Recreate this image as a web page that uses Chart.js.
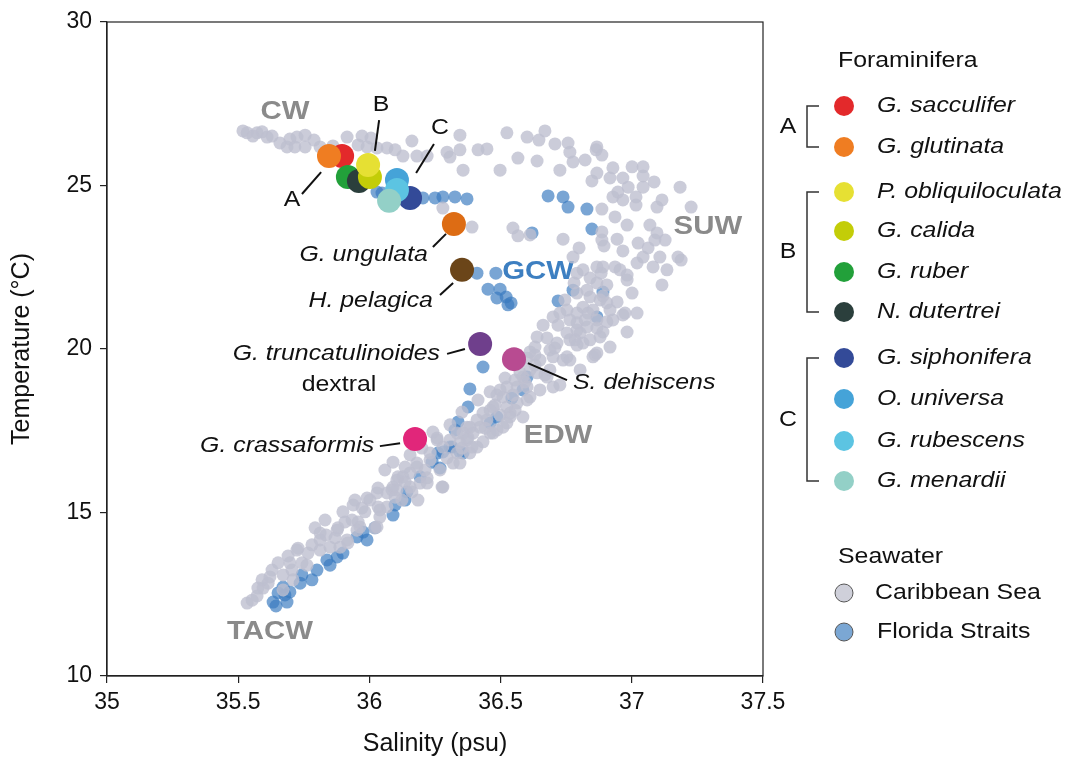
<!DOCTYPE html>
<html>
<head>
<meta charset="utf-8">
<script src="https://cdn.jsdelivr.net/npm/chart.js@4.4.0/dist/chart.umd.min.js"></script>
<style>
  html, body { margin: 0; padding: 0; background: #fff; }
  #wrap { width: 1069px; height: 760px; }
</style>
</head>
<body>
<div id="wrap"><canvas id="tsChart" width="1069" height="760"></canvas></div>
<script>
// Seawater T-S data
const caribbeanSalinity = [
  35.518,35.534,35.572,35.591,35.610,35.629,35.556,35.697,35.724,35.755,35.686,35.716,35.755,35.812,35.915,35.972,35.957,35.991,36.029,36.067,
  36.098,36.128,36.162,36.181,36.220,36.296,36.307,36.345,36.345,36.357,36.414,36.448,36.498,36.524,36.280,36.391,35.659,35.789,35.861,36.006,
  36.601,36.646,36.707,36.757,36.764,36.776,36.867,36.886,36.566,36.639,36.726,36.928,36.867,36.848,37.001,37.043,37.043,36.966,36.986,37.043,
  36.947,36.928,36.966,37.016,37.016,37.115,37.096,37.184,37.226,36.886,36.936,36.547,36.566,36.612,36.738,36.799,36.776,36.886,36.886,36.894,
  36.944,36.966,37.024,37.062,37.088,37.096,37.107,37.081,37.176,37.020,37.043,36.936,36.890,36.883,36.982,36.791,36.841,36.905,37.115,37.085,
  36.814,36.867,36.955,36.982,36.867,36.829,36.791,36.841,36.879,36.905,36.814,36.791,36.764,36.833,36.852,36.753,36.726,36.700,37.001,37.134,
  36.974,37.020,36.928,36.867,36.982,37.069,37.127,37.188,36.669,36.822,36.864,36.917,36.662,36.719,36.791,36.803,36.867,36.905,36.860,36.738,
  36.791,36.639,36.631,36.612,36.688,36.669,36.585,36.563,36.509,36.486,36.471,36.433,36.410,36.383,36.357,36.345,36.307,36.280,36.258,36.231,
  36.181,36.155,36.128,36.105,36.090,36.585,36.536,36.509,36.471,36.563,36.612,36.753,36.829,36.890,36.966,36.814,36.852,36.784,36.715,36.677,
  36.650,36.601,36.700,36.612,36.574,36.555,36.524,36.498,36.601,36.639,36.677,36.700,36.650,36.601,36.524,36.460,36.448,36.421,36.395,36.372,
  36.536,36.524,36.486,36.460,36.433,36.410,36.383,36.753,36.688,36.803,36.791,36.879,36.982,36.917,36.867,36.334,36.319,36.345,36.269,36.280,
  36.220,36.193,36.181,36.136,36.155,36.109,36.086,36.067,36.040,36.029,36.002,36.029,35.964,35.938,35.934,35.915,35.877,35.850,35.812,35.812,
  35.766,35.743,35.724,35.697,35.652,35.621,35.595,35.572,35.534,35.591,35.629,35.705,35.728,35.762,35.812,35.869,35.880,35.888,35.918,35.957,
  35.953,35.991,36.033,36.067,36.033,36.040,36.021,36.105,36.136,36.220,36.277,36.185,36.124,36.231,36.258,36.376,36.391,36.372,36.334,35.553,
  35.614,35.671,35.690,35.781,35.835,35.907,35.983,36.098,36.162,36.212,36.296,36.353,36.441,36.498,36.547,36.593,36.631,36.707,36.764,36.841,
  36.479,36.555,36.726,36.764,36.822,36.917,36.944,36.890,36.780,36.745,
  35.793,35.831,35.899,35.945,35.972,36.059,36.090,36.155,36.200,36.242,36.307,36.353,36.414,36.460,36.517,36.574,36.631,35.671,35.709,35.575
];
const caribbeanTemperature = [
  26.67,26.61,26.61,26.64,26.48,26.51,26.51,26.42,26.48,26.54,26.18,26.18,26.18,26.18,26.48,26.51,26.24,26.18,26.15,26.15,
  26.09,25.90,26.36,25.90,25.90,26.02,25.87,26.54,26.09,25.47,26.09,26.12,25.47,26.61,24.31,23.73,26.30,26.39,26.21,26.45,
  26.48,26.39,26.27,26.30,26.02,25.72,26.18,25.93,25.84,25.75,25.47,25.54,25.38,25.14,25.57,25.57,25.29,25.23,24.95,24.95,
  24.80,24.65,24.56,24.65,24.40,24.56,24.34,24.95,24.34,24.28,24.04,23.70,23.46,23.49,23.36,23.09,22.81,23.58,23.33,23.15,
  23.36,23.00,23.24,23.09,23.33,23.55,22.81,22.51,22.81,22.63,22.81,22.51,22.51,22.32,22.26,22.32,22.17,21.96,21.96,25.11,
  22.42,22.51,22.42,22.11,22.02,21.80,21.71,21.59,21.50,21.41,21.28,21.10,20.89,21.10,21.19,21.19,21.10,20.98,21.71,22.42,
  21.10,21.10,20.89,20.89,23.79,23.79,23.33,22.72,26.67,25.78,26.09,25.23,20.73,20.73,20.80,20.49,20.64,20.83,19.82,19.66,
  20.12,20.37,20.06,19.91,19.97,19.21,19.14,18.84,18.53,18.59,18.23,18.04,17.83,17.61,17.43,17.13,17.22,17.00,17.28,16.61,
  16.51,16.21,16.09,15.99,15.78,17.92,18.04,17.61,17.43,18.35,18.53,20.49,20.67,20.52,21.04,20.18,19.76,20.28,20.18,20.34,
  19.66,19.72,19.76,19.36,19.27,19.05,18.84,18.75,18.84,19.27,19.14,18.84,18.75,18.44,18.23,18.13,17.83,17.61,17.43,17.22,
  17.92,17.74,17.52,17.43,17.16,17.00,16.82,19.76,19.36,19.36,20.58,20.37,20.52,20.06,19.88,16.82,16.51,16.51,16.30,15.78,
  16.06,15.90,16.39,16.39,15.78,16.09,15.69,15.17,15.08,15.60,15.38,14.56,14.56,15.23,14.77,14.16,14.46,13.94,14.16,14.37,
  13.76,13.46,13.85,13.46,13.46,13.03,12.69,12.45,12.23,12.94,13.24,13.24,13.91,13.39,13.85,14.22,14.53,13.94,14.07,14.71,
  14.46,15.44,15.75,15.60,15.17,14.86,14.53,15.69,15.93,15.90,15.78,15.38,15.38,16.82,17.22,17.28,17.00,17.61,17.43,12.32,
  12.84,13.09,13.67,14.01,14.31,14.71,15.02,15.47,15.63,16.30,16.67,16.97,17.58,17.98,18.59,18.99,19.51,20.03,20.28,20.28,
  18.29,18.13,18.90,19.66,20.89,21.19,21.44,21.62,22.02,21.50,
  14.53,14.77,15.02,15.38,15.14,16.30,16.54,16.76,16.97,17.46,17.68,18.07,18.44,18.69,19.11,19.60,19.82,12.63,12.94,12.69
];
const floridaSalinity = [
  36.029,36.048,36.204,36.250,36.280,36.326,36.372,36.681,36.738,36.757,36.829,36.848,36.620,36.410,36.482,36.452,36.498,36.486,36.521,36.528,
  36.540,36.719,36.867,36.890,36.776,36.433,36.383,36.376,36.338,36.315,36.280,36.261,36.357,36.460,36.486,36.543,36.585,36.601,36.239,36.269,
  36.307,36.345,36.136,36.143,36.090,36.021,35.976,35.953,35.899,35.877,35.838,35.800,35.781,35.743,35.736,35.697,35.686,35.652,35.633,35.671,
  35.678,36.326,36.193,36.098,35.991,35.850,35.644
];
const floridaTemperature = [
  24.80,24.77,24.62,24.62,24.65,24.65,24.59,24.68,24.65,24.34,24.28,23.67,23.55,22.32,22.32,21.83,21.83,21.56,21.59,21.35,
  21.41,21.47,20.98,21.74,21.80,19.45,18.78,18.23,17.77,17.00,16.85,16.82,16.82,17.74,17.92,18.50,18.75,19.14,16.54,16.36,
  17.00,16.85,15.38,15.63,14.92,14.53,14.40,14.25,13.76,13.64,13.55,13.24,12.94,13.09,12.84,12.57,12.26,12.54,12.26,12.72,
  12.48,17.52,16.09,15.23,14.16,13.39,12.14
];

// Foraminifera calcification estimates
const foramNames = ['G. sacculifer', 'G. glutinata', 'P. obliquiloculata', 'G. calida', 'G. ruber', 'N. dutertrei',
  'G. siphonifera', 'O. universa', 'G. rubescens', 'G. menardii', 'G. ungulata', 'H. pelagica',
  'G. truncatulinoides dextral', 'S. dehiscens', 'G. crassaformis'];
const foramSalinity = [35.896, 35.846, 35.995, 36.002, 35.918, 35.960, 36.155, 36.105, 36.105, 36.075, 36.322, 36.353, 36.422, 36.551, 36.174];
const foramTemperature = [25.90, 25.90, 25.63, 25.26, 25.26, 25.14, 24.62, 25.17, 24.86, 24.53, 23.82, 22.42, 20.15, 19.69, 17.25];
const foramGroup = ['A', 'A', 'B', 'B', 'B', 'B', 'C', 'C', 'C', 'C', '', '', '', '', ''];

const xTicks = [35, 35.5, 36, 36.5, 37, 37.5];
const yTicks = [10, 15, 20, 25, 30];

// styles
const foramColors = ['#e3292b', '#ef7d22', '#e6e033', '#c3cd08', '#22a03a', '#2b3f3c', '#334a98', '#45a3d8',
  '#5cc4e2', '#93d0c7', '#dd6c14', '#6b4519', '#6f3f8c', '#b84b91', '#e1267a'];
const foramLayer = [0, 1, 5, 4, 2, 3, 6, 7, 8, 9, 10, 11, 12, 13, 14]; // paint order, higher = on top
const FONT = '"Liberation Sans", Arial, Helvetica, sans-serif';
const STRETCH = 1.13;

function pairs(xs, ys) {
  return xs.map((x, i) => ({ x: x, y: ys[i] }));
}

const datasets = [
  {
    label: 'Florida Straits',
    data: pairs(floridaSalinity, floridaTemperature),
    backgroundColor: 'rgba(58, 122, 192, 0.68)',
    borderWidth: 0,
    pointRadius: 6.5,
    order: 1000
  },
  {
    label: 'Caribbean Sea',
    data: pairs(caribbeanSalinity, caribbeanTemperature),
    backgroundColor: 'rgba(190, 191, 207, 0.8)',
    borderWidth: 0,
    pointRadius: 6.5,
    order: 999
  }
];
foramNames.forEach((name, i) => {
  datasets.push({
    label: name,
    data: [{ x: foramSalinity[i], y: foramTemperature[i] }],
    backgroundColor: foramColors[i],
    borderWidth: 0,
    pointRadius: 12,
    order: 100 - foramLayer[i]
  });
});

// water mass labels and leader-line annotations (data units)
const zones = [
  { text: 'CW', s: 35.678, t: 27.25, color: '#8a8a8a' },
  { text: 'SUW', s: 37.290, t: 23.73, color: '#8a8a8a' },
  { text: 'GCW', s: 36.643, t: 22.35, color: '#3d7fc1' },
  { text: 'EDW', s: 36.719, t: 17.34, color: '#8a8a8a' },
  { text: 'TACW', s: 35.621, t: 11.35, color: '#8a8a8a' }
];
const notes = [
  { text: 'A', s: 35.705, t: 24.56, align: 'center', italic: false, line: [35.816, 25.41, 35.743, 24.74] },
  { text: 'B', s: 36.044, t: 27.46, align: 'center', italic: false, line: [36.037, 27.00, 36.021, 26.06] },
  { text: 'C', s: 36.269, t: 26.76, align: 'center', italic: false, line: [36.246, 26.27, 36.178, 25.38] },
  { text: 'G. ungulata', s: 36.223, t: 22.87, align: 'right', italic: true, line: [36.242, 23.12, 36.292, 23.52] },
  { text: 'H. pelagica', s: 36.242, t: 21.47, align: 'right', italic: true, line: [36.269, 21.65, 36.319, 22.02] },
  { text: 'G. truncatulinoides', s: 36.269, t: 19.85, align: 'right', italic: true, line: [36.296, 19.85, 36.364, 20.00] },
  { text: 'dextral', s: 35.884, t: 18.90, align: 'center', italic: false, line: null },
  { text: 'S. dehiscens', s: 36.776, t: 18.96, align: 'left', italic: true, line: [36.604, 19.57, 36.753, 19.05] },
  { text: 'G. crassaformis', s: 36.018, t: 17.03, align: 'right', italic: true, line: [36.040, 17.03, 36.117, 17.12] }
];

function wideText(ctx, text, x, y, align, font, color) {
  ctx.save();
  ctx.font = font;
  ctx.fillStyle = color;
  ctx.textAlign = align;
  ctx.textBaseline = 'middle';
  ctx.translate(x, y);
  ctx.scale(STRETCH, 1);
  ctx.fillText(text, 0, 0);
  ctx.restore();
}

const overlay = {
  id: 'overlay',
  beforeDatasetsDraw(chart) {
    const ctx = chart.ctx;
    const xs = chart.scales.x, ys = chart.scales.y;
    zones.forEach(z => {
      wideText(ctx, z.text, xs.getPixelForValue(z.s), ys.getPixelForValue(z.t), 'center', 'bold 26px ' + FONT, z.color);
    });
  },
  afterDatasetsDraw(chart) {
    const ctx = chart.ctx;
    const xs = chart.scales.x, ys = chart.scales.y;
    notes.forEach(n => {
      if (n.line) {
        ctx.save();
        ctx.strokeStyle = '#111';
        ctx.lineWidth = 2;
        ctx.beginPath();
        ctx.moveTo(xs.getPixelForValue(n.line[0]), ys.getPixelForValue(n.line[1]));
        ctx.lineTo(xs.getPixelForValue(n.line[2]), ys.getPixelForValue(n.line[3]));
        ctx.stroke();
        ctx.restore();
      }
      const f = (n.italic ? 'italic ' : '') + '22px ' + FONT;
      wideText(ctx, n.text, xs.getPixelForValue(n.s), ys.getPixelForValue(n.t), n.align, f, '#111');
    });
  },
  afterDraw(chart) {
    const ctx = chart.ctx;
    const a = chart.chartArea;
    // frame
    ctx.save();
    ctx.strokeStyle = '#222';
    ctx.lineWidth = 1.2;
    ctx.strokeRect(a.left, a.top, a.right - a.left, a.bottom - a.top);
    ctx.restore();

    // legend: foraminifera
    const legX = 844, txtX = 877;
    const rowY = [106, 147, 192, 231, 272, 312, 358, 399, 441, 481];
    wideText(ctx, 'Foraminifera', 838, 61, 'left', '22px ' + FONT, '#111');
    rowY.forEach((y, i) => {
      ctx.beginPath();
      ctx.fillStyle = foramColors[i];
      ctx.arc(legX, y, 10, 0, Math.PI * 2);
      ctx.fill();
      wideText(ctx, foramNames[i], txtX, y, 'left', 'italic 22px ' + FONT, '#111');
    });
    ['A', 'B', 'C'].forEach(g => {
      const idx = foramGroup.map((v, i) => v === g ? i : -1).filter(i => i >= 0);
      const y0 = rowY[idx[0]], y1 = rowY[idx[idx.length - 1]];
      ctx.save();
      ctx.strokeStyle = '#333';
      ctx.lineWidth = 1.5;
      ctx.beginPath();
      ctx.moveTo(819, y0);
      ctx.lineTo(807, y0);
      ctx.lineTo(807, y1);
      ctx.lineTo(819, y1);
      ctx.stroke();
      ctx.restore();
      wideText(ctx, g, 788, (y0 + y1) / 2, 'center', '22px ' + FONT, '#111');
    });

    // legend: seawater
    wideText(ctx, 'Seawater', 838, 557, 'left', '22px ' + FONT, '#111');
    const sea = [
      { label: 'Caribbean Sea', y: 593, fill: '#cfd0da', tx: 875 },
      { label: 'Florida Straits', y: 632, fill: '#7ba7d4', tx: 877 }
    ];
    sea.forEach(s => {
      ctx.save();
      ctx.beginPath();
      ctx.arc(legX, s.y, 9, 0, Math.PI * 2);
      ctx.fillStyle = s.fill;
      ctx.fill();
      ctx.strokeStyle = '#555';
      ctx.lineWidth = 1;
      ctx.stroke();
      ctx.restore();
      wideText(ctx, s.label, s.tx, s.y, 'left', '22px ' + FONT, '#111');
    });
  }
};

const ctx = document.getElementById('tsChart').getContext('2d');
const tsChart = new Chart(ctx, {
  type: 'scatter',
  data: { datasets: datasets },
  options: {
    responsive: false,
    animation: false,
    layout: { padding: { top: 22, right: 306, bottom: 0, left: 0 } },
    plugins: {
      legend: { display: false },
      tooltip: { enabled: false }
    },
    scales: {
      x: {
        type: 'linear',
        min: 35,
        max: 37.5,
        afterBuildTicks: s => { s.ticks = xTicks.map(v => ({ value: v })); },
        afterFit: s => { s.height = 84; s.paddingLeft = 0; s.paddingRight = 0; },
        ticks: { color: '#111', padding: 6, font: { family: FONT, size: 23 }, maxRotation: 0, callback: v => String(v) },
        grid: { drawOnChartArea: false, drawTicks: true, tickLength: 7, color: '#222', lineWidth: 1.2 },
        border: { display: true, color: '#222', width: 1.2 },
        title: { display: true, text: 'Salinity (psu)', color: '#111', font: { family: FONT, size: 25, lineHeight: 1.2 }, padding: { top: 0, bottom: 1 } }
      },
      y: {
        type: 'linear',
        min: 10,
        max: 30,
        afterBuildTicks: s => { s.ticks = yTicks.map(v => ({ value: v })); },
        afterFit: s => { s.width = 107; s.paddingTop = 0; s.paddingBottom = 0; },
        ticks: { color: '#111', padding: 8, font: { family: FONT, size: 23 }, callback: v => String(v) },
        grid: { drawOnChartArea: false, drawTicks: true, tickLength: 7, color: '#222', lineWidth: 1.2 },
        border: { display: true, color: '#222', width: 1.2 },
        title: { display: true, text: 'Temperature (°C)', color: '#111', font: { family: FONT, size: 25, lineHeight: 1.2 }, padding: { top: 7, bottom: 0 } }
      }
    }
  },
  plugins: [overlay]
});
</script>
</body>
</html>
